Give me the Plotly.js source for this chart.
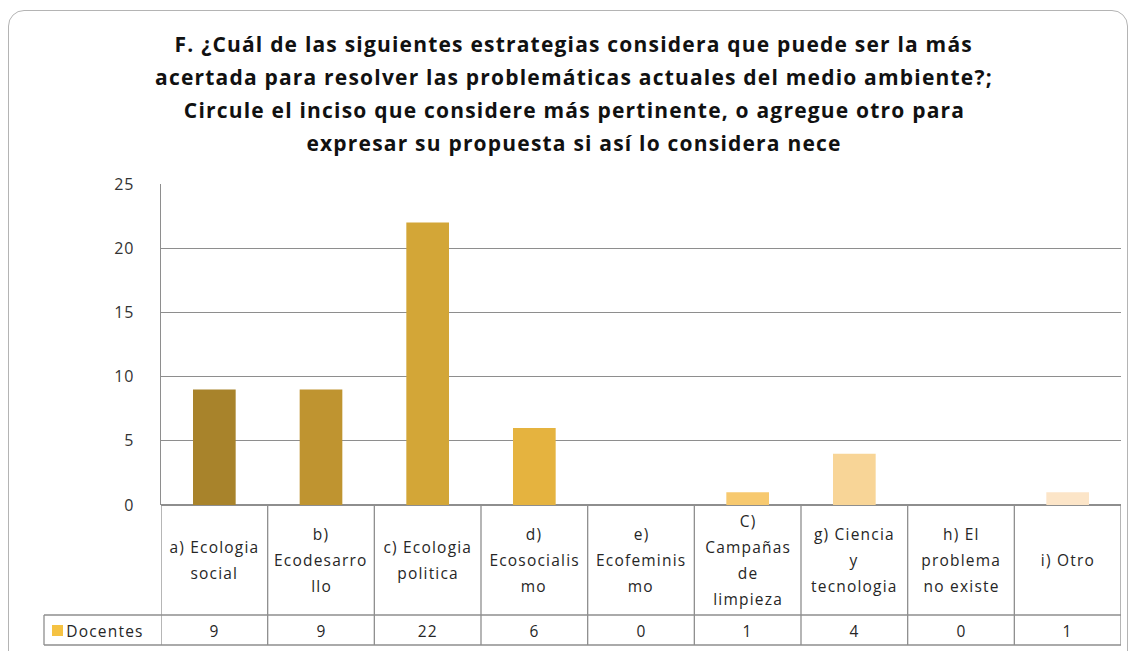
<!DOCTYPE html>
<html>
<head>
<meta charset="utf-8">
<script src="https://cdn.plot.ly/plotly-3.0.1.min.js"></script>
<style>
  html, body { margin: 0; padding: 0; background: #ffffff; }
  #frame { position: absolute; left: 8px; top: 10px; width: 1120px; height: 660px;
           border: 1.5px solid #b4b4b4; border-radius: 16px; box-sizing: border-box; }
  #chart { position: absolute; left: 0; top: 0; width: 1133px; height: 651px; }
  #chart .annotation-text { letter-spacing: 1.2px; }
  #chart .ytick text { letter-spacing: 1px; }
</style>
</head>
<body>
<div id="frame"></div>
<div id="chart"></div>
<script>
// ---- data ----
const titleLines = [
  "F. ¿Cuál de las siguientes estrategias considera que puede ser la más",
  "acertada para resolver las problemáticas actuales del medio ambiente?;",
  "Circule el inciso que considere más pertinente, o agregue otro para",
  "expresar su propuesta si así lo considera nece"
];
const categories = [
  "a) Ecologia social", "b) Ecodesarrollo", "c) Ecologia politica", "d) Ecosocialismo",
  "e) Ecofeminismo", "C) Campañas de limpieza", "g) Ciencia y tecnologia",
  "h) El problema no existe", "i) Otro"
];
const categoryLines = [
  ["a) Ecologia", "social"],
  ["b)", "Ecodesarro", "llo"],
  ["c) Ecologia", "politica"],
  ["d)", "Ecosocialis", "mo"],
  ["e)", "Ecofeminis", "mo"],
  ["C)", "Campañas", "de", "limpieza"],
  ["g) Ciencia", "y", "tecnologia"],
  ["h) El", "problema", "no existe"],
  ["i) Otro"]
];
const seriesName = "Docentes";
const docentes = [9, 9, 22, 6, 0, 1, 4, 0, 1];
const barColors = ["#A8832B", "#BF9430", "#D3A637", "#E5B33F", "#F1BE52", "#F7C96F", "#F8D597", "#FADDB0", "#FCE5C8"];
const legendColor = "#F5C242";
const yTicks = [0, 5, 10, 15, 20, 25];

// ---- geometry helpers (pixel -> paper) ----
const W = 1133, H = 651;
const PL = 161, PR = 1121, PT = 184, PB = 505;
const px = x => (x - PL) / (PR - PL);
const py = y => (PB - y) / (PB - PT);

const FONT = "Open Sans, Liberation Sans, sans-serif";
const gridCol = "#8e8e8e";
const textCol = "#262626";

const xIdx = categories.map((c, i) => i);

const trace = {
  type: "bar",
  x: xIdx,
  y: docentes,
  name: seriesName,
  marker: { color: barColors, line: { width: 0 } },
  width: 0.4,
  hoverinfo: "x+y",
  showlegend: false
};

const shapes = [];
const annotations = [];

// title lines
titleLines.forEach((t, i) => {
  annotations.push({
    xref: "paper", yref: "paper", x: px(574), y: py(44 + i * 33),
    text: "<b>" + t + "</b>", showarrow: false, xanchor: "center", yanchor: "middle",
    font: { family: FONT, size: 21, color: "#111111" }
  });
});

// table: vertical lines at category boundaries
for (let i = 0; i <= categories.length; i++) {
  shapes.push({
    type: "line", xref: "x", yref: "paper", x0: i - 0.5, x1: i - 0.5,
    y0: py(505), y1: py(645), line: { color: gridCol, width: 1.3 }
  });
}
// table horizontal lines
shapes.push({ type: "line", xref: "paper", yref: "paper", x0: px(44), x1: px(PR), y0: py(615), y1: py(615), line: { color: gridCol, width: 1.3 } });
shapes.push({ type: "line", xref: "paper", yref: "paper", x0: px(44), x1: px(PR), y0: py(645), y1: py(645), line: { color: gridCol, width: 1.3 } });
shapes.push({ type: "line", xref: "paper", yref: "paper", x0: px(44), x1: px(44), y0: py(615), y1: py(645), line: { color: gridCol, width: 1.3 } });
// legend key
shapes.push({ type: "rect", xref: "paper", yref: "paper", x0: px(52), x1: px(63), y0: py(625), y1: py(636), fillcolor: legendColor, line: { width: 0 } });
annotations.push({
  xref: "paper", yref: "paper", x: px(69), y: py(630.5), text: seriesName, showarrow: false,
  xanchor: "left", yanchor: "middle", font: { family: FONT, size: 15.5, color: textCol }
});

// category labels and values
const lineH = 25.7;
categoryLines.forEach((lines, i) => {
  const n = lines.length;
  const start = 560 - (n - 1) * lineH / 2;
  lines.forEach((ln, k) => {
    annotations.push({
      xref: "x", yref: "paper", x: i, y: py(start + k * lineH), text: ln, showarrow: false,
      xanchor: "center", yanchor: "middle", font: { family: FONT, size: 15.5, color: textCol }
    });
  });
  annotations.push({
    xref: "x", yref: "paper", x: i, y: py(630.5), text: String(docentes[i]), showarrow: false,
    xanchor: "center", yanchor: "middle", font: { family: FONT, size: 15.5, color: textCol }
  });
});

const layout = {
  width: W, height: H,
  margin: { l: PL, r: W - PR, t: PT, b: H - PB, pad: 0 },
  paper_bgcolor: "rgba(0,0,0,0)",
  plot_bgcolor: "rgba(0,0,0,0)",
  xaxis: {
    range: [-0.5, categories.length - 0.5], showticklabels: false, showgrid: false,
    zeroline: false, showline: false, ticks: "", fixedrange: true
  },
  yaxis: {
    range: [0, 25], tickvals: yTicks, ticktext: yTicks.map(String),
    showgrid: true, gridcolor: gridCol, gridwidth: 1.3,
    zeroline: true, zerolinecolor: gridCol, zerolinewidth: 1.3,
    showline: true, linecolor: gridCol, linewidth: 1.3,
    ticks: "", ticklabelstandoff: 22,
    tickfont: { family: FONT, size: 16, color: "#333333" }, fixedrange: true
  },
  shapes: shapes,
  annotations: annotations,
  showlegend: false
};

Plotly.newPlot("chart", [trace], layout, { displayModeBar: false, staticPlot: true });
</script>
</body>
</html>
